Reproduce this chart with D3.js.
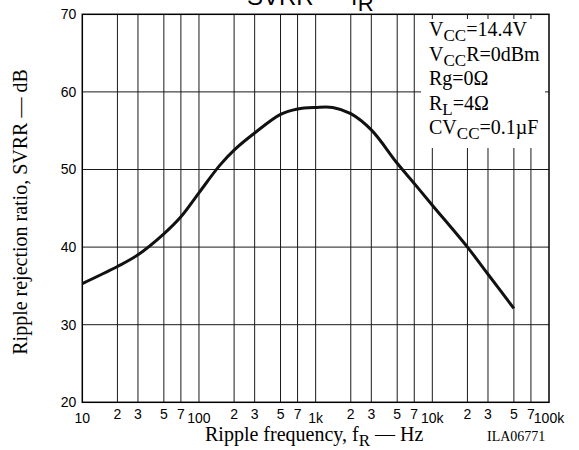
<!DOCTYPE html>
<html>
<head>
<meta charset="utf-8">
<script src="https://cdn.jsdelivr.net/npm/d3@7"></script>
<style>
  html, body { margin: 0; padding: 0; background: #fff; }
  svg { display: block; }
</style>
</head>
<body>
<svg id="chart" width="579" height="450"></svg>
<script>
// ---- data ----
const freqs = [10, 20, 30, 50, 70, 100, 150, 200, 300, 500, 700, 1000, 1400, 2000, 3000, 5000, 7000, 10000, 20000, 30000, 50000];
const svrr  = [35.3, 37.5, 39.0, 41.7, 43.9, 47.0, 50.5, 52.5, 54.7, 57.1, 57.8, 58.0, 58.0, 57.2, 55.1, 50.8, 48.2, 45.4, 40.0, 36.5, 32.1];
const yTicks = [20, 30, 40, 50, 60, 70];
const decadeTicks = [10, 100, 1000, 10000, 100000];
const decadeLabels = ["10", "100", "1k", "10k", "100k"];
const minorMult = [2, 3, 5, 7];
const legendLines = [
  [["V", 0], ["CC", 1], ["=14.4V", 0]],
  [["V", 0], ["CC", 1], ["R=0dBm", 0]],
  [["Rg=0\u03A9", 0]],
  [["R", 0], ["L", 1], ["=4\u03A9", 0]],
  [["CV", 0], ["CC", 1], ["=0.1\u00B5F", 0]]
];

// ---- layout ----
const L = 82.3, R = 549, T = 14.3, B = 402.3;
const svg = d3.select("#chart");
const x = d3.scaleLog().domain([10, 100000]).range([L, R]);
const y = d3.scaleLinear().domain([20, 70]).range([B, T]);

const minorTicks = [];
decadeTicks.slice(0, 4).forEach(d => minorMult.forEach(m => minorTicks.push(d * m)));

const sans = "'Liberation Sans', Arial, sans-serif";
const serif = "'Liberation Serif', 'Times New Roman', serif";

// grid
const grid = svg.append("g").attr("stroke", "#1a1a1a").attr("stroke-width", 1).attr("fill", "none");
grid.selectAll("line.v").data(minorTicks.concat(decadeTicks.slice(1, 4))).join("line")
  .attr("x1", d => x(d)).attr("x2", d => x(d)).attr("y1", T).attr("y2", B);
grid.selectAll("line.h").data(yTicks.slice(1, 5)).join("line")
  .attr("x1", L).attr("x2", R).attr("y1", d => y(d)).attr("y2", d => y(d));

// legend box (covers grid)
svg.append("rect").attr("x", 421).attr("y", 19).attr("width", 124).attr("height", 129).attr("fill", "#fff");

// frame
svg.append("rect").attr("x", L).attr("y", T).attr("width", R - L).attr("height", B - T)
  .attr("fill", "none").attr("stroke", "#000").attr("stroke-width", 1.5);

// curve
const line = d3.line().x((d, i) => x(freqs[i])).y(d => y(d)).curve(d3.curveCatmullRom.alpha(0.5));
svg.append("path").datum(svrr).attr("d", line)
  .attr("fill", "none").attr("stroke", "#111").attr("stroke-width", 3).attr("stroke-linejoin", "round");

// y tick labels
svg.append("g").selectAll("text").data(yTicks).join("text")
  .attr("x", L - 6).attr("y", d => y(d)).attr("dy", "0.35em")
  .attr("text-anchor", "end").attr("font-family", sans).attr("font-size", 14).attr("fill", "#000")
  .text(d => d);

// x tick labels
svg.append("g").selectAll("text").data(decadeTicks).join("text")
  .attr("x", d => x(d)).attr("y", 422.5)
  .attr("text-anchor", "middle").attr("font-family", sans).attr("font-size", 14).attr("fill", "#000")
  .text((d, i) => decadeLabels[i]);
svg.append("g").selectAll("text").data(minorTicks).join("text")
  .attr("x", d => x(d)).attr("y", 419)
  .attr("text-anchor", "middle").attr("font-family", sans).attr("font-size", 14).attr("fill", "#000")
  .text(d => Math.round(d / Math.pow(10, Math.floor(Math.log10(d) + 1e-9))));

// title (cut at top)
const title = svg.append("text").attr("x", 247).attr("y", 4.5)
  .attr("font-family", sans).attr("font-size", 24).attr("fill", "#000");
title.append("tspan").text("SVRR \u2014 f");
title.append("tspan").attr("dy", 6.5).attr("font-size", 22).text("R");

// y axis title
svg.append("text").attr("transform", "translate(27,212) rotate(-90)")
  .attr("text-anchor", "middle").attr("font-family", serif).attr("font-size", 20).attr("fill", "#000")
  .text("Ripple rejection ratio, SVRR \u2014 dB");

// x axis title
const xt = svg.append("text").attr("x", 205).attr("y", 441)
  .attr("font-family", serif).attr("font-size", 20).attr("fill", "#000");
xt.append("tspan").text("Ripple frequency, f");
xt.append("tspan").attr("dy", 5).attr("font-size", 17).text("R");
xt.append("tspan").attr("dy", -5).text(" \u2014 Hz");

svg.append("text").attr("x", 487).attr("y", 441)
  .attr("font-family", serif).attr("font-size", 14).attr("fill", "#000").text("ILA06771");

// legend text
const lg = svg.append("g").attr("font-family", serif).attr("font-size", 20).attr("fill", "#000");
legendLines.forEach((parts, i) => {
  const t = lg.append("text").attr("x", 429).attr("y", 36 + i * 24.5);
  let sub = 0;
  parts.forEach(([s, isSub]) => {
    const ts = t.append("tspan").text(s);
    if (isSub && !sub) { ts.attr("dy", 5).attr("font-size", 17); sub = 1; }
    else if (!isSub && sub) { ts.attr("dy", -5); sub = 0; }
  });
});
</script>
</body>
</html>
